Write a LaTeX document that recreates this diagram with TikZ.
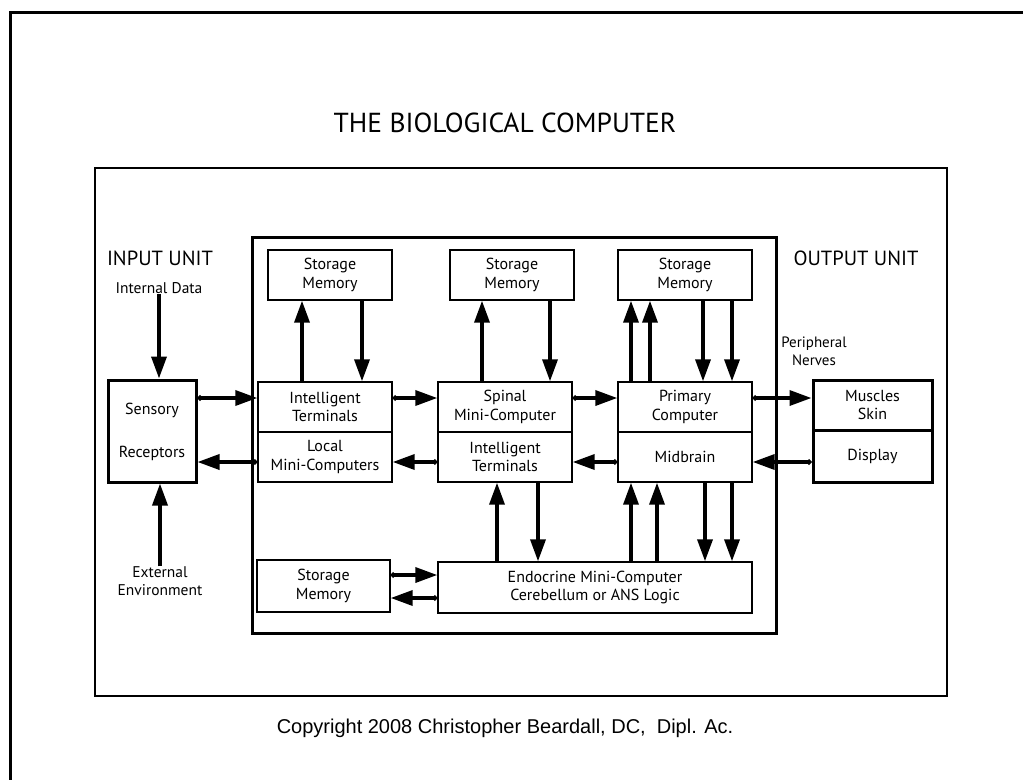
\documentclass[tikz,border=0pt]{standalone}
\usepackage{fontspec}
\setmainfont{PT Sans}
\newfontfamily\titlefont{PT Sans}
\newfontfamily\copyfont{Liberation Sans}
\usetikzlibrary{arrows.meta}
\tikzset{
  box/.style={draw,line width=1.4pt,minimum width=#1,minimum height=50pt,inner sep=0pt,align=center,font=\fontsize{16}{18.5}\selectfont},
  box/.default=134pt,
  heavy/.style={draw,line width=3pt,minimum width=#1,inner sep=0pt,align=center,font=\fontsize{16}{18.5}\selectfont},
  lbl/.style={inner sep=0pt,align=center,font=\fontsize{15.5}{18}\selectfont},
  unit/.style={inner sep=0pt,font=\fontsize{20.5}{24}\selectfont},
  arr/.style={line width=3.5pt,-{Triangle[length=22pt,width=15pt]}},
  darr/.style={line width=3.5pt,{Circle[length=5pt]}-{Triangle[length=22pt,width=15pt]}}
}
\begin{document}
\begin{tikzpicture}[x=1pt,y=-1pt]
\useasboundingbox (0,0) rectangle (1023,780);
% frames
\draw[line width=3pt] (1023,12) -- (10,12) -- (10,780);
\draw[line width=1.2pt] (95,168) rectangle (947,696);
\node[font=\titlefont\fontsize{27.5}{30}\selectfont,inner sep=0pt] (title) at (505,123) {THE BIOLOGICAL COMPUTER};
\node[font=\copyfont\fontsize{20}{23}\selectfont,inner sep=0pt] (copy) at (505,728) {Copyright 2008 Christopher Beardall, DC,\ \ Dipl. Ac.};

% labels
\node[unit] (inunit) at (160,258) {INPUT UNIT};
\node[unit] (outunit) at (856,258) {OUTPUT UNIT};
\node[lbl] (idata) at (159,288) {Internal Data};
\node[lbl] (ext) at (160,581) {External\\Environment};
\node[lbl,font=\fontsize{15}{18}\selectfont] (nerves) at (814,351) {Peripheral\\Nerves};

% sensory receptors
\node[heavy,minimum width=88pt,minimum height=102pt] (sens) at (152,431) {};
\node[lbl,font=\fontsize{16}{18.5}\selectfont] (senst) at (152,410) {Sensory};
\node[lbl,font=\fontsize{16}{18.5}\selectfont] (recept) at (152,453) {Receptors};

% output unit
\node[heavy,minimum width=119pt,minimum height=50pt] (mus) at (872.5,405) {Muscles\\Skin};
\node[heavy,minimum width=119pt,minimum height=52pt] (disp) at (872.5,456) {Display};

% main box
\draw[line width=3pt] (252,237) rectangle (776,633);

\node[box=124pt] (sm1) at (330,275) {Storage\\Memory};
\node[box=124pt] (sm2) at (512,275) {Storage\\Memory};
\node[box=134pt] (sm3) at (685,275) {Storage\\Memory};

\node[box] (it1) at (325,407) {Intelligent\\Terminals};
\node[box] (lmc) at (325,457) {Local\\Mini-Computers};
\node[box] (spn) at (505,407) {Spinal\\Mini-Computer};
\node[box] (it2) at (505,457) {Intelligent\\Terminals};
\node[box] (pc) at (685,407) {Primary\\Computer};
\node[box] (mb) at (685,457) {Midbrain};

\node[box=133pt,minimum height=52pt] (smb) at (323.5,586) {Storage\\Memory};
\node[box=314pt,minimum height=51pt] (endo) at (595,587.5) {Endocrine Mini-Computer\\Cerebellum or ANS Logic};

% level coordinates
\coordinate (r1) at (0,398);
\coordinate (r2) at (0,462);
\coordinate (r3) at (0,575);
\coordinate (r4) at (0,598);

% input arrows
\draw[arr] (idata.south) -- (idata.south |- sens.north);
\draw[arr] (ext.north) -- (ext.north |- sens.south);

% row 1
\draw[darr] (sens.east |- r1) -- (it1.west |- r1);
\draw[darr] (it1.east |- r1) -- (spn.west |- r1);
\draw[darr] (spn.east |- r1) -- (pc.west |- r1);
\draw[darr] (pc.east |- r1) -- (mus.west |- r1);
% row 2
\draw[darr] (disp.west |- r2) -- (mb.east |- r2);
\draw[darr] (mb.west |- r2) -- (it2.east |- r2);
\draw[darr] (it2.west |- r2) -- (lmc.east |- r2);
\draw[darr] (lmc.west |- r2) -- (sens.east |- r2);
% bottom
\draw[darr] (smb.east |- r3) -- (endo.west |- r3);
\draw[darr] (endo.west |- r4) -- (smb.east |- r4);

% vertical columns
\coordinate (c1) at (302,0);
\coordinate (c2) at (362,0);
\coordinate (c3) at (482,0);
\coordinate (c4) at (550,0);
\coordinate (c5) at (631,0);
\coordinate (c6) at (650,0);
\coordinate (c7) at (703,0);
\coordinate (c8) at (732,0);
\coordinate (c9) at (497,0);
\coordinate (c10) at (538,0);
\coordinate (c11) at (657,0);
\coordinate (c12) at (705,0);

\draw[arr] (it1.north -| c1) -- (sm1.south -| c1);
\draw[arr] (sm1.south -| c2) -- (it1.north -| c2);
\draw[arr] (spn.north -| c3) -- (sm2.south -| c3);
\draw[arr] (sm2.south -| c4) -- (spn.north -| c4);
\draw[arr] (pc.north -| c5) -- (sm3.south -| c5);
\draw[arr] (pc.north -| c6) -- (sm3.south -| c6);
\draw[arr] (sm3.south -| c7) -- (pc.north -| c7);
\draw[arr] (sm3.south -| c8) -- (pc.north -| c8);

\draw[arr] (endo.north -| c9) -- (it2.south -| c9);
\draw[arr] (it2.south -| c10) -- (endo.north -| c10);
\draw[arr] (endo.north -| c5) -- (mb.south -| c5);
\draw[arr] (endo.north -| c11) -- (mb.south -| c11);
\draw[arr] (mb.south -| c12) -- (endo.north -| c12);
\draw[arr] (mb.south -| c8) -- (endo.north -| c8);
\end{tikzpicture}
\end{document}
